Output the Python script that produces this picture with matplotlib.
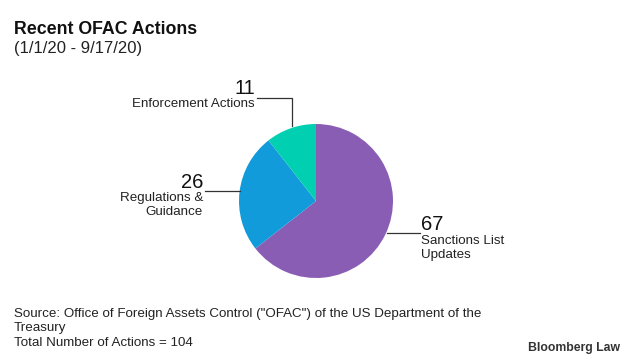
import matplotlib
matplotlib.use("Agg")
import matplotlib.pyplot as plt

categories = ["Sanctions List\nUpdates", "Regulations &\nGuidance", "Enforcement Actions"]
values = [67, 26, 11]
colors = ["#8A5DB5", "#129BDA", "#00D0B1"]

W, H = 633, 363
fig = plt.figure(figsize=(W / 100, H / 100), dpi=100)
ax = fig.add_axes([0, 0, 1, 1])
plt.rcParams['font.family'] = ['Liberation Sans', 'DejaVu Sans']

def Y(y):
    return H - y

cx, cy, r = 316, 201, 77
ax.pie(values, colors=colors, startangle=90, counterclock=False,
       center=(cx, Y(cy)), radius=r, wedgeprops=dict(linewidth=0))
ax.set_xlim(0, W)
ax.set_ylim(0, H)
ax.set_aspect('equal')
ax.axis('off')

lc = "#333333"
lw = 0.9
nfs = 14.5
lfs = 9.6
# Enforcement
ax.plot([257, 292, 292], [Y(98), Y(98), Y(126)], color=lc, lw=lw)
ax.text(255, Y(88), str(values[2]), ha='right', va='center', fontsize=nfs, color='#111111')
ax.text(255, Y(104), categories[2], ha='right', va='center', fontsize=lfs, color='#222222')
# Regulations
ax.plot([205, 240], [Y(191), Y(191)], color=lc, lw=lw)
ax.text(203, Y(182), str(values[1]), ha='right', va='center', fontsize=nfs, color='#111111')
ax.text(203, Y(205), categories[1], ha='right', va='center', fontsize=lfs, color='#222222', linespacing=1.2, multialignment='right')
# Sanctions
ax.plot([387, 420], [Y(233), Y(233)], color=lc, lw=lw)
ax.text(421, Y(224), str(values[0]), ha='left', va='center', fontsize=nfs, color='#111111')
ax.text(421, Y(248), categories[0], ha='left', va='center', fontsize=lfs, color='#222222', linespacing=1.2)

fig.text(14 / W, 1 - 30 / H, "Recent OFAC Actions", ha='left', va='center', fontsize=12.8, fontweight='bold', color='#111111')
fig.text(14 / W, 1 - 49 / H, "(1/1/20 - 9/17/20)", ha='left', va='center', fontsize=12, color='#222222')

sfs = 9.6
fig.text(14 / W, 1 - 314 / H, 'Source: Office of Foreign Assets Control ("OFAC") of the US Department of the', ha='left', va='center', fontsize=sfs, color='#222222')
fig.text(14 / W, 1 - 328 / H, 'Treasury', ha='left', va='center', fontsize=sfs, color='#222222')
fig.text(14 / W, 1 - 343 / H, 'Total Number of Actions = 104', ha='left', va='center', fontsize=sfs, color='#222222')
fig.text(620 / W, 1 - 348 / H, 'Bloomberg Law', ha='right', va='center', fontsize=8.8, fontweight='bold', color='#333333')

fig.savefig("out.png", dpi=100)
